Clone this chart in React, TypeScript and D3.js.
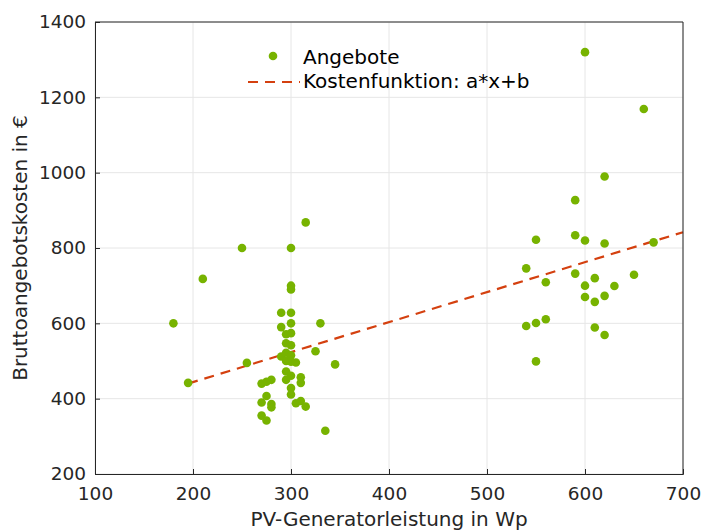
import { useEffect, useRef } from 'react'
import * as d3 from 'd3'

// Angebote: PV-Generatorleistung (Wp) und Bruttoangebotskosten (€)
const powerWp = [
  180, 195, 210, 250, 255,
  270, 275, 280, 270, 275, 280, 280, 270, 275,
  290, 300, 290, 300, 300, 300, 300,
  295, 300, 295, 300, 290, 295, 300, 295, 300, 305,
  295, 300, 295, 310, 310, 300, 300,
  305, 310, 315,
  315, 325, 330, 335, 345,
  540, 540, 550, 550, 550, 560, 560,
  590, 590, 590, 600, 600, 600, 600,
  610, 610, 610, 620, 620, 620, 620,
  630, 650, 660, 670,
]
const costEur = [
  600, 442, 718, 800, 495,
  440, 445, 450, 390, 407, 386, 377, 355, 342,
  628, 628, 590, 600, 700, 690, 800,
  571, 574, 547, 542, 512, 522, 515, 500, 498, 496,
  472, 461, 450, 457, 442, 428, 411,
  388, 394, 379,
  868, 526, 600, 315, 491,
  746, 593, 822, 601, 499, 709, 611,
  927, 834, 732, 1320, 820, 700, 670,
  720, 657, 589, 990, 812, 673, 569,
  699, 729, 1169, 815,
]

// Kostenfunktion a*x+b, Endpunkte
const fitX = [195, 700]
const fitY = [440, 842]

const xTicks = [100, 200, 300, 400, 500, 600, 700]
const yTicks = [200, 400, 600, 800, 1000, 1200, 1400]

const legendLabels = ['Angebote', 'Kostenfunktion: a*x+b']

function App() {
  const svgRef = useRef(null)

  useEffect(() => {
    const svg = d3.select(svgRef.current)
    svg.selectAll('*').remove()

    const width = 701
    const height = 530
    const margin = { left: 95, right: 18, top: 22, bottom: 56 }
    const innerW = width - margin.left - margin.right
    const innerH = height - margin.top - margin.bottom

    const axisColor = '#262626'
    const green = '#77b300'
    const red = '#d4400f'
    const font = 'DejaVu Sans, sans-serif'

    svg.attr('width', width).attr('height', height)

    const x = d3.scaleLinear().domain([100, 700]).range([0, innerW])
    const y = d3.scaleLinear().domain([200, 1400]).range([innerH, 0])

    const g = svg.append('g')
      .attr('transform', `translate(${margin.left},${margin.top})`)

    // Grid
    g.append('g')
      .selectAll('line')
      .data(xTicks)
      .enter().append('line')
      .attr('x1', d => x(d)).attr('x2', d => x(d))
      .attr('y1', 0).attr('y2', innerH)
      .attr('stroke', '#e6e6e6')
    g.append('g')
      .selectAll('line')
      .data(yTicks)
      .enter().append('line')
      .attr('y1', d => y(d)).attr('y2', d => y(d))
      .attr('x1', 0).attr('x2', innerW)
      .attr('stroke', '#e6e6e6')

    // Fit line
    const line = d3.line()
      .x(d => x(d[0]))
      .y(d => y(d[1]))
    g.append('path')
      .datum(fitX.map((v, i) => [v, fitY[i]]))
      .attr('fill', 'none')
      .attr('stroke', red)
      .attr('stroke-width', 2.2)
      .attr('stroke-dasharray', '10,7')
      .attr('d', line)

    // Points
    g.selectAll('.pt')
      .data(powerWp.map((v, i) => [v, costEur[i]]))
      .enter().append('circle')
      .attr('class', 'pt')
      .attr('cx', d => x(d[0]))
      .attr('cy', d => y(d[1]))
      .attr('r', 4.3)
      .attr('fill', green)

    // Axes (ticks inward)
    const fmt = d3.format('d')
    const xAxis = g.append('g')
      .attr('transform', `translate(0,${innerH})`)
      .call(d3.axisBottom(x).tickValues(xTicks).tickFormat(fmt).tickSize(-5).tickPadding(13))
    const yAxis = g.append('g')
      .call(d3.axisLeft(y).tickValues(yTicks).tickFormat(fmt).tickSize(-5).tickPadding(9))
    ;[xAxis, yAxis].forEach(a => {
      a.select('.domain').attr('stroke', axisColor)
      a.selectAll('.tick line').attr('stroke', axisColor)
      a.selectAll('.tick text')
        .attr('fill', axisColor)
        .style('font-family', font)
        .style('font-size', '18.5px')
    })
    // top and right box
    g.append('line').attr('x1', 0).attr('x2', innerW).attr('y1', 0).attr('y2', 0)
      .attr('stroke', axisColor)
    g.append('line').attr('x1', innerW).attr('x2', innerW).attr('y1', 0).attr('y2', innerH)
      .attr('stroke', axisColor)

    // Axis labels
    svg.append('text')
      .attr('x', margin.left + innerW / 2)
      .attr('y', 526)
      .attr('text-anchor', 'middle')
      .attr('fill', axisColor)
      .style('font-family', font)
      .style('font-size', '20px')
      .text('PV-Generatorleistung in Wp')
    svg.append('text')
      .attr('transform', `translate(27,${margin.top + innerH / 2}) rotate(-90)`)
      .attr('text-anchor', 'middle')
      .attr('fill', axisColor)
      .style('font-family', font)
      .style('font-size', '20px')
      .text('Bruttoangebotskosten in €')

    // Legend
    const legend = svg.append('g')
    legend.append('circle')
      .attr('cx', 273).attr('cy', 56).attr('r', 4.3).attr('fill', green)
    legend.append('line')
      .attr('x1', 248).attr('x2', 300).attr('y1', 82).attr('y2', 82)
      .attr('stroke', red).attr('stroke-width', 2.2)
      .attr('stroke-dasharray', '10,7')
    legendLabels.forEach((label, i) => {
      legend.append('text')
        .attr('x', 303)
        .attr('y', 64 + i * 24)
        .attr('fill', '#000')
        .style('font-family', font)
        .style('font-size', '20px')
        .text(label)
    })
  }, [])

  return <svg ref={svgRef} style={{ position: 'absolute', left: 0, top: 0 }}></svg>
}

export default App
